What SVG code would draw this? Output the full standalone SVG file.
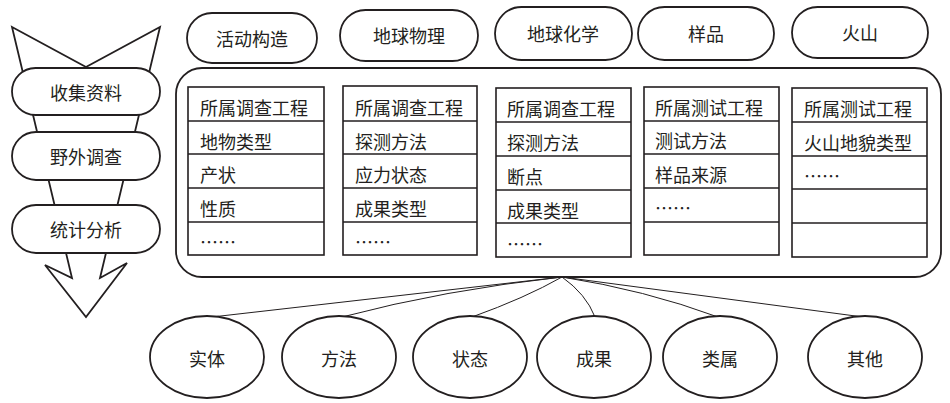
<svg xmlns="http://www.w3.org/2000/svg" width="950" height="403" viewBox="0 0 950 403">
<style>
  .bg{fill:#ffffff}
  .shape{fill:#ffffff;stroke:#231f20;stroke-width:1.8}
  .cell{fill:#ffffff;stroke:#231f20;stroke-width:1.6}
  .conn{fill:none;stroke:#231f20;stroke-width:1}
  .t{font-family:"Noto Sans CJK SC","Noto Sans",sans-serif;font-size:18px;fill:#231f20;dominant-baseline:central}
  .c{text-anchor:middle}
</style>
<rect class="bg" x="0" y="0" width="950" height="403"/>

<g id="funnel">
  <polygon class="shape" points="12,27 86,67 160,27 100,278 127,263 86,317 45,265 72,278"/>
</g>
<g id="step-collect">
  <rect class="shape" x="12" y="68" width="148" height="47" rx="23.5"/>
  <text class="t c" x="86" y="92">收集资料</text>
</g>
<g id="step-field">
  <rect class="shape" x="12" y="132" width="148" height="48" rx="24"/>
  <text class="t c" x="86" y="156">野外调查</text>
</g>
<g id="step-stats">
  <rect class="shape" x="12" y="205" width="148" height="48" rx="24"/>
  <text class="t c" x="86" y="229">统计分析</text>
</g>

<g id="cat-tectonic">
  <rect class="shape" x="187" y="13" width="130" height="50" rx="25"/>
  <text class="t c" x="252" y="38">活动构造</text>
</g>
<g id="cat-geophysics">
  <rect class="shape" x="340" y="10" width="138" height="51" rx="25.5"/>
  <text class="t c" x="409" y="35">地球物理</text>
</g>
<g id="cat-geochem">
  <rect class="shape" x="495" y="7" width="137" height="53" rx="26.5"/>
  <text class="t c" x="563" y="33">地球化学</text>
</g>
<g id="cat-sample">
  <rect class="shape" x="638" y="7" width="136" height="53" rx="26.5"/>
  <text class="t c" x="706" y="33">样品</text>
</g>
<g id="cat-volcano">
  <rect class="shape" x="792" y="7" width="136" height="51" rx="25.5"/>
  <text class="t c" x="860" y="32">火山</text>
</g>

<g id="container">
  <rect class="shape" x="176" y="68" width="765" height="209" rx="26"/>
</g>

<g id="table-1">
  <rect class="cell" x="188" y="87" width="136" height="168"/>
  <path class="cell" d="M188 121H324M188 154H324M188 188H324M188 222H324"/>
  <text class="t" x="200" y="107">所属调查工程</text>
  <text class="t" x="200" y="141">地物类型</text>
  <text class="t" x="200" y="174">产状</text>
  <text class="t" x="200" y="208">性质</text>
  <text class="t" x="200" y="241">……</text>
</g>
<g id="table-2">
  <rect class="cell" x="343" y="86" width="134" height="169"/>
  <path class="cell" d="M343 121H477M343 154H477M343 188H477M343 222H477"/>
  <text class="t" x="355" y="107">所属调查工程</text>
  <text class="t" x="355" y="141">探测方法</text>
  <text class="t" x="355" y="174">应力状态</text>
  <text class="t" x="355" y="208">成果类型</text>
  <text class="t" x="355" y="241">……</text>
</g>
<g id="table-3">
  <rect class="cell" x="496" y="88" width="135" height="169"/>
  <path class="cell" d="M496 122H631M496 156H631M496 190H631M496 223H631"/>
  <text class="t" x="507" y="108">所属调查工程</text>
  <text class="t" x="507" y="142">探测方法</text>
  <text class="t" x="507" y="176">断点</text>
  <text class="t" x="507" y="210">成果类型</text>
  <text class="t" x="507" y="243">……</text>
</g>
<g id="table-4">
  <rect class="cell" x="644" y="87" width="135" height="168"/>
  <path class="cell" d="M644 121H779M644 154H779M644 188H779M644 222H779"/>
  <text class="t" x="655" y="107">所属测试工程</text>
  <text class="t" x="655" y="140">测试方法</text>
  <text class="t" x="655" y="174">样品来源</text>
  <text class="t" x="655" y="207">……</text>
</g>
<g id="table-5">
  <rect class="cell" x="792" y="88" width="135" height="169"/>
  <path class="cell" d="M792 122H927M792 156H927M792 189H927M792 223H927"/>
  <text class="t" x="804" y="108">所属测试工程</text>
  <text class="t" x="804" y="142">火山地貌类型</text>
  <text class="t" x="804" y="175">……</text>
</g>

<g id="connectors">
  <path class="conn" d="M562 277L212 317"/>
  <path class="conn" d="M562 277Q444 290 342 317"/>
  <path class="conn" d="M562 277Q525 298 472 317"/>
  <path class="conn" d="M562 277Q586 294 595 317"/>
  <path class="conn" d="M562 277Q645 290 718 317"/>
  <path class="conn" d="M562 277L863 317"/>
</g>

<g id="class-entity">
  <ellipse class="shape" cx="207" cy="357" rx="57" ry="41"/>
  <text class="t c" x="207" y="358">实体</text>
</g>
<g id="class-method">
  <ellipse class="shape" cx="339" cy="357" rx="57" ry="41"/>
  <text class="t c" x="339" y="358">方法</text>
</g>
<g id="class-state">
  <ellipse class="shape" cx="470" cy="357" rx="57" ry="41"/>
  <text class="t c" x="470" y="358">状态</text>
</g>
<g id="class-result">
  <ellipse class="shape" cx="594" cy="357" rx="57" ry="41"/>
  <text class="t c" x="594" y="358">成果</text>
</g>
<g id="class-category">
  <ellipse class="shape" cx="720" cy="357" rx="57" ry="41"/>
  <text class="t c" x="720" y="358">类属</text>
</g>
<g id="class-other">
  <ellipse class="shape" cx="865" cy="357" rx="57" ry="41"/>
  <text class="t c" x="865" y="358">其他</text>
</g>
</svg>
